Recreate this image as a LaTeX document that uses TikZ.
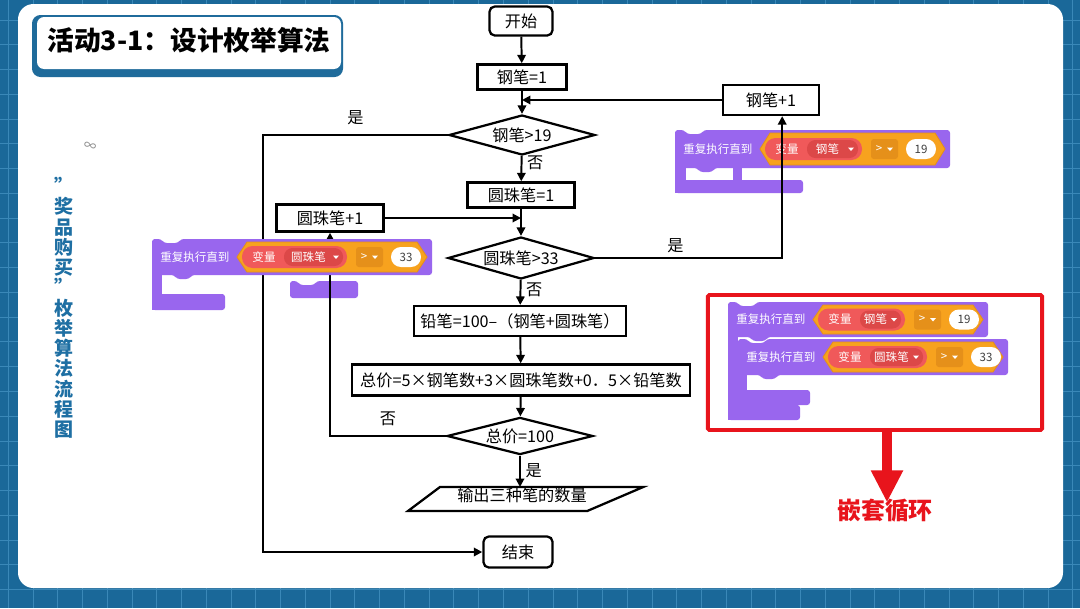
\documentclass[tikz,border=0pt]{standalone}
\usepackage{fontspec}
\setmainfont{Noto Sans CJK SC}
\usepackage{tikz}
\usetikzlibrary{arrows.meta, shapes.geometric, calc}
\definecolor{bgblue}{HTML}{1A6899}
\definecolor{gridblue}{HTML}{3A88B8}
\definecolor{titleblue}{HTML}{1F6B9B}
\definecolor{textblue}{HTML}{1E6FA3}
\definecolor{scpurple}{HTML}{9966EE}
\definecolor{scorange}{HTML}{F7A21E}
\definecolor{scorangedk}{HTML}{E5901A}
\definecolor{scred}{HTML}{F0595A}
\definecolor{screddk}{HTML}{DC4848}
\definecolor{alertred}{HTML}{E8141C}

% scratch "repeat until" band: x, y, width, height, variable, number, pill width
\newcommand{\untilband}[7]{%
  \begin{scope}[shift={(#1,#2)}]
    \pgfmathsetmacro{\bandmid}{#4/2}
    \pgfmathsetmacro{\pillend}{90+#7}
    \fill[scpurple, rounded corners=2pt] (0,0) -- (9,0) -- (12,4) -- (26,4) -- (29,0)
      -- (#3,0) -- (#3,#4) -- (40,#4) -- (37,{#4+4}) -- (25,{#4+4}) -- (22,#4) -- (0,#4) -- cycle;
    \node[sctext, anchor=west] at (8,\bandmid) {重复执行直到};
    \filldraw[fill=scorange, draw=scorangedk, line width=0.6pt] (85,\bandmid) -- (95,3)
      -- ({#3-15},3) -- ({#3-5},\bandmid) -- ({#3-15},{#4-3}) -- (95,{#4-3}) -- cycle;
    \fill[scred, rounded corners=7.5pt] (90,{\bandmid-11}) rectangle (\pillend,{\bandmid+11});
    \node[sctext] at (112,\bandmid) {变量};
    \fill[screddk, rounded corners=6pt] (132,{\bandmid-9}) rectangle ({\pillend-4},{\bandmid+9});
    \node[sctext] at ({(132+\pillend-4)/2-5},\bandmid) {#5};
    \fill[white] ({\pillend-14},{\bandmid-1.5}) -- ({\pillend-8},{\bandmid-1.5}) -- ({\pillend-11},{\bandmid+2}) -- cycle;
    \fill[scorangedk, rounded corners=2pt] ({\pillend+9},{\bandmid-10}) rectangle ({\pillend+36},{\bandmid+10});
    \node[sctext] at ({\pillend+17},\bandmid) {>};
    \fill[white] ({\pillend+25},{\bandmid-1.5}) -- ({\pillend+31},{\bandmid-1.5}) -- ({\pillend+28},{\bandmid+2}) -- cycle;
    \fill[white, rounded corners=7pt] ({\pillend+44},{\bandmid-10}) rectangle ({\pillend+74},{\bandmid+10});
    \node[sctext, text=black!75] at ({\pillend+59},\bandmid) {#6};
  \end{scope}}

\begin{document}
\begin{tikzpicture}[
        x=0.025cm, y=-0.025cm,
        flowbox/.style={rectangle, draw, line width=1.6pt, inner sep=0pt,
                        font=\fontsize{11.5}{13}\selectfont},
        termbox/.style={flowbox, rounded corners=4pt},
        decide/.style={diamond, draw, line width=1.6pt, aspect=3.6, inner sep=0pt,
                       font=\fontsize{11.5}{13}\selectfont},
        flowarrow/.style={-{Triangle[length=6pt,width=6pt]}, line width=1.4pt},
        flowlabel/.style={font=\fontsize{11.5}{13}\selectfont},
        sctext/.style={font=\fontsize{8.2}{10}\selectfont, text=white, inner sep=0pt},
        gridline/.style={gridblue, line width=0.6pt}
    ]
        \useasboundingbox (0,0) rectangle (1080,608);

        % background and card
        \fill[bgblue] (0,0) rectangle (1080,608);
        \foreach \k in {0,...,44}
            \draw[gridline] ({8.2+24.76*\k},0) -- ({8.2+24.76*\k},608);
        \foreach \k in {0,...,25}
            \draw[gridline] (0,{-4.76+24.76*\k}) -- (1080,{-4.76+24.76*\k});
        \fill[white, rounded corners=11pt] (18,4) rectangle (1063,588);

        % title
        \fill[titleblue, rounded corners=6pt] (32,15) rectangle (343,77);
        \fill[white, rounded corners=5pt] (37,17) rectangle (341,69);
        \node[font=\fontsize{19}{22}\selectfont\bfseries] (title) at (189,40) {活动3-1：设计枚举算法};
        \node[text=black!45, font=\fontsize{9}{10}\selectfont, rotate=-15] (loopmark) at (90,147) {∞};
        \node[font=\fontsize{13.5}{14.4}\selectfont\bfseries, text=textblue, align=center]
            (vtitle) at (64,308) {”\\奖\\品\\购\\买\\”\\枚\\举\\算\\法\\流\\程\\图};

        % scratch block for the pen loop (lines run over it)
        \fill[scpurple] (675,166) rectangle (686,193);
        \fill[scpurple, rounded corners=2pt] (675,180) rectangle (803,193);
        \fill[scpurple] (733,166) rectangle (742,180);
        \untilband{675}{130}{275}{38}{钢笔}{19}{97}

        % scratch block for the ball-pen loop, lower part
        \fill[scpurple] (152,273) rectangle (162,310);
        \fill[scpurple, rounded corners=2pt] (152,294) rectangle (225,310);
        \fill[scpurple, rounded corners=2pt] (290,281) -- (297,281) -- (300,285) -- (314,285)
            -- (317,281) -- (358,281) -- (358,298) -- (290,298) -- cycle;

        % flowchart
        \node[termbox, minimum width=1.58cm, minimum height=0.73cm] (start) at (521,21) {开始};
        \node[flowbox, minimum width=2.23cm, minimum height=0.63cm] (pen1) at (522,77) {钢笔=1};
        \node[decide, minimum width=3.65cm, minimum height=1cm] (d1) at (522,135) {钢笔>19};
        \node[flowbox, minimum width=2.68cm, minimum height=0.63cm] (ball1) at (521,195) {圆珠笔=1};
        \node[decide, minimum width=3.65cm, minimum height=1.05cm] (d2) at (521,258) {圆珠笔>33};
        \node[flowbox, minimum width=5.3cm, minimum height=0.75cm] (pencil) at (520,321)
            {铅笔=100–（钢笔+圆珠笔）};
        \node[flowbox, minimum width=8.45cm, minimum height=0.78cm] (total) at (521,380)
            {总价=5×钢笔数+3×圆珠笔数+0．5×铅笔数};
        \node[decide, minimum width=3.65cm, minimum height=0.93cm] (d3) at (520,436) {总价=100};
        \node[flowlabel] (outp) at (522,495) {输出三种笔的数量};
        \draw[line width=1.6pt] ($(outp.center)+(-2.05cm,0.2cm)$) -- ($(outp.center)+(3.03cm,0.2cm)$)
            -- ($(outp.center)+(1.63cm,-0.4cm)$) -- ($(outp.center)+(-2.85cm,-0.4cm)$) -- cycle;
        \coordinate (outtop) at ($(outp.center)+(0,0.2cm)$);
        \node[termbox, minimum width=1.73cm, minimum height=0.78cm] (end) at (518,552) {结束};
        \node[flowbox, minimum width=2.4cm, minimum height=0.75cm] (pen2) at (771,100) {钢笔+1};
        \node[flowbox, minimum width=2.68cm, minimum height=0.68cm] (ball2) at (330,218) {圆珠笔+1};
        \coordinate (pen2in) at ([xshift=0.28cm]pen2.south);
        \coordinate (exitline) at (263,0);

        \draw[flowarrow] (start) -- (pen1);
        \draw[flowarrow] (pen1) -- (d1);
        \draw[flowarrow] (d1) -- node[flowlabel, right, pos=0.25] {否} (ball1);
        \draw[flowarrow] (ball1) -- (d2);
        \draw[flowarrow] (d2) -- node[flowlabel, right, pos=0.38] {否} (pencil);
        \draw[flowarrow] (pencil) -- (total);
        \draw[flowarrow] (total) -- (d3);
        \draw[flowarrow] (d3) -- node[flowlabel, right, pos=0.47] {是} (d3.south |- outtop);
        \draw[flowarrow] (d1.west) -- node[flowlabel, above=3pt] {是} (d1.west -| exitline) |- (end.west);
        \draw[flowarrow] (d2.east) -- node[flowlabel, above, pos=0.43] {是} (d2.east -| pen2in) -- (pen2in);
        \draw[flowarrow] (pen2.west) -- (pen2.west -| pen1.south);
        \draw[flowarrow] (ball2.east) -- (ball2.east -| ball1.south);
        \draw[flowarrow] (d3.west) -- node[flowlabel, above=3pt] {否} (d3.west -| ball2.south) -- (ball2.south);

        % ball-pen loop band covers the lines
        \untilband{152}{239}{280}{36}{圆珠笔}{33}{105}

        % nested loop
        \fill[scpurple] (728,335) rectangle (738,420);
        \fill[scpurple, rounded corners=2pt] (728,405) rectangle (800,420);
        \untilband{728}{302}{260}{35}{钢笔}{19}{87}
        \fill[scpurple] (738,373) rectangle (747,405);
        \fill[scpurple, rounded corners=2pt] (738,390) rectangle (810,405);
        \untilband{738}{339}{270}{36}{圆珠笔}{33}{99}

        \node[draw=alertred, line width=2.8pt, minimum width=8.35cm, minimum height=3.375cm,
              rounded corners=1pt, inner sep=0pt] (nestbox) at (875,362.5) {};
        \node[font=\fontsize{17}{20}\selectfont\bfseries, text=alertred] (nesttxt) at (885,511) {嵌套循环};
        \coordinate (nestout) at ([xshift=0.3cm]nestbox.south);
        \draw[alertred, line width=7pt, -{Triangle[length=0.8cm, width=0.75cm]}, shorten >=-0.2cm]
            (nestout) -- (nestout |- nesttxt.north);
    \end{tikzpicture}
\end{document}
